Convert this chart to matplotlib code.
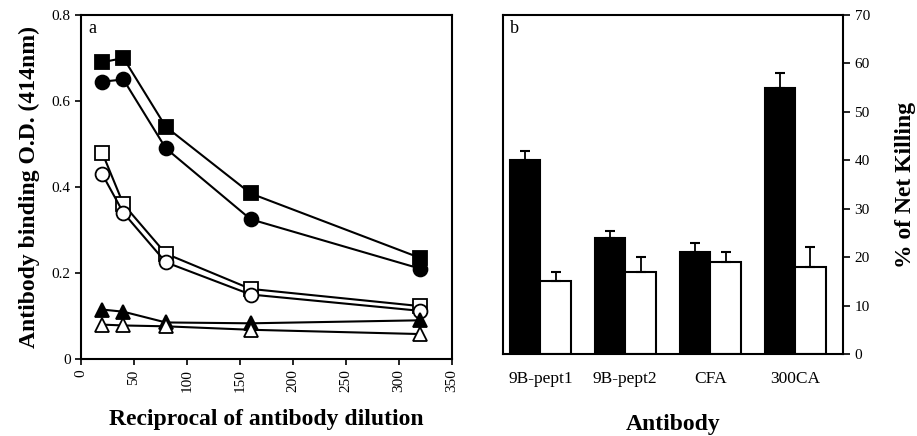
import numpy as np
import matplotlib
matplotlib.use('Agg')
from matplotlib import pyplot as plt

plt.rcParams['font.family'] = ['Liberation Serif', 'DejaVu Serif']

# panel a: binding curves
dilution = [20, 40, 80, 160, 320]
sq_filled = [0.69, 0.70, 0.54, 0.385, 0.235]
circ_filled = [0.645, 0.65, 0.49, 0.325, 0.21]
sq_open = [0.48, 0.36, 0.245, 0.163, 0.123]
circ_open = [0.43, 0.34, 0.225, 0.15, 0.112]
tri_filled = [0.115, 0.11, 0.085, 0.083, 0.09]
tri_open = [0.08, 0.078, 0.076, 0.068, 0.058]
xticks_a = [0, 50, 100, 150, 200, 250, 300, 350]
yticks_a = [0, 0.2, 0.4, 0.6, 0.8]
ylabels_a = ['0', '0.2', '0.4', '0.6', '0.8']

# panel b: killing
antibodies = ['9B-pept1', '9B-pept2', 'CFA', '300CA']
kill_black = [40, 24, 21, 55]
err_black = [2, 1.5, 2, 3]
kill_white = [15, 17, 19, 18]
err_white = [2, 3, 2, 4]
yticks_b = [0, 10, 20, 30, 40, 50, 60, 70]

fig = plt.figure(figsize=(9.17, 4.36), dpi=100)
ax = fig.add_axes([0.0883, 0.1766, 0.4047, 0.789])

series = [
    (sq_filled, 's', 'black'),
    (circ_filled, 'o', 'black'),
    (sq_open, 's', 'white'),
    (circ_open, 'o', 'white'),
    (tri_filled, '^', 'black'),
    (tri_open, '^', 'white'),
]
for vals, mk, fc in series:
    ax.plot(dilution, vals, color='black', lw=1.5, marker=mk, ms=10,
            mfc=fc, mec='black', mew=1.3, zorder=3)

ax.set_xlim(0, 350)
ax.set_ylim(0, 0.8)
ax.set_xticks(xticks_a)
ax.set_xticklabels([str(t) for t in xticks_a], rotation=90, fontsize=11)
ax.set_yticks(yticks_a)
ax.set_yticklabels(ylabels_a, fontsize=11)
ax.tick_params(direction='out', length=4, width=1.2)
for s in ax.spines.values():
    s.set_linewidth(1.5)
ax.set_xlabel('Reciprocal of antibody dilution', fontsize=17, fontweight='bold', labelpad=12)
ax.set_ylabel('Antibody binding O.D. (414nm)', fontsize=17, fontweight='bold', labelpad=8)
ax.text(0.02, 0.985, 'a', transform=ax.transAxes, fontsize=13, va='top', ha='left')

# panel b
bx = fig.add_axes([0.5485, 0.188, 0.3705, 0.7776])
pos = np.arange(len(antibodies)) + 0.44
w = 0.36
bx.bar(pos - w / 2, kill_black, w, color='black', edgecolor='black', lw=1.5, zorder=2)
bx.bar(pos + w / 2, kill_white, w, color='white', edgecolor='black', lw=1.5, zorder=2)
bx.errorbar(pos - w / 2, kill_black, yerr=[np.zeros(4), err_black], fmt='none',
            ecolor='black', elinewidth=1.3, capsize=3.5, capthick=1.5, zorder=3)
bx.errorbar(pos + w / 2, kill_white, yerr=[np.zeros(4), err_white], fmt='none',
            ecolor='black', elinewidth=1.3, capsize=3.5, capthick=1.5, zorder=3)
bx.set_xlim(0, 4)
bx.set_ylim(0, 70)
bx.set_xticks(pos)
bx.set_xticklabels(antibodies, fontsize=12.5)
bx.tick_params(axis='x', length=0, pad=12)
bx.yaxis.tick_right()
bx.yaxis.set_label_position('right')
bx.set_yticks(yticks_b)
bx.set_yticklabels([str(t) for t in yticks_b], fontsize=11)
bx.tick_params(axis='y', direction='out', length=5, width=1.2)
for s in bx.spines.values():
    s.set_linewidth(1.5)
bx.set_xlabel('Antibody', fontsize=17, fontweight='bold', labelpad=20)
bx.set_ylabel('% of Net Killing', fontsize=17, fontweight='bold', labelpad=18)
bx.text(0.02, 0.985, 'b', transform=bx.transAxes, fontsize=13, va='top', ha='left')

fig.savefig('out.png', dpi=100)
